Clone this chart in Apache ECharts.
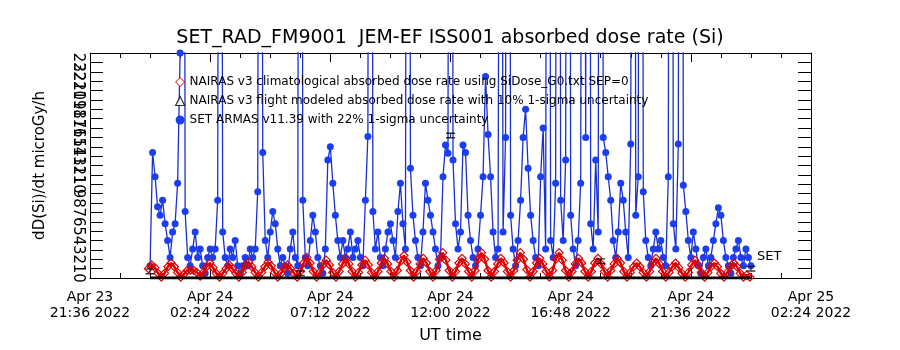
<!DOCTYPE html>
<html>
<head>
<meta charset="utf-8">
<script src="https://cdn.jsdelivr.net/npm/echarts@6/dist/echarts.min.js"></script>
<style>
  html, body { margin: 0; padding: 0; background: #fff; }
  #chart { width: 900px; height: 350px; }
</style>
</head>
<body>
<div id="chart"></div>
<script>
// x axis: minutes after Apr 23 2022 21:36 UT, ticks every 4.8 h
const xTickLabels = ['Apr 23\n21:36 2022', 'Apr 24\n02:24 2022', 'Apr 24\n07:12 2022', 'Apr 24\n12:00 2022',
  'Apr 24\n16:48 2022', 'Apr 24\n21:36 2022', 'Apr 25\n02:24 2022'];
const dayStart = 144; // Apr 24 00:00 in axis minutes

// SET ARMAS dose rate, one value every 6 min from Apr 24 00:00
const setStep = 6;
const setValues = [
  1.3, 13.4, 10.8, 7.6, 6.7, 8.3, 5.8, 4.0, 2.2, 4.9,
  5.8, 10.1, 24.0, 180, 7.1, 2.2, 1.3, 3.1, 4.9, 2.2,
  3.1, 1.3, 0.5, 2.2, 3.1, 2.2, 3.1, 8.3, 150, 4.9,
  2.2, 1.3, 3.1, 2.2, 4.0, 1.3, 0.5, 1.3, 2.2, 1.3,
  3.1, 2.2, 3.1, 9.2, 150, 13.4, 4.0, 2.2, 4.9, 7.1,
  5.8, 3.1, 1.3, 2.2, 1.3, 0.5, 3.1, 4.9, 2.2, 1.3,
  200, 8.3, 2.2, 1.3, 4.0, 6.7, 4.9, 2.2, 1.3, 0.5,
  3.1, 12.6, 14.0, 10.1, 6.7, 4.0, 2.2, 4.0, 2.2, 3.1,
  4.9, 2.2, 3.1, 4.0, 2.2, 1.3, 8.3, 15.1, 180, 7.1,
  3.1, 4.9, 2.2, 1.3, 3.1, 4.9, 5.8, 4.0, 2.2, 7.1,
  10.1, 5.8, 3.1, 160, 11.7, 6.7, 4.0, 2.2, 1.3, 4.9,
  10.1, 8.3, 6.7, 4.9, 3.1, 1.3, 2.2, 10.8, 14.2, 13.3,
  200, 12.6, 5.8, 3.1, 4.9, 14.2, 13.4, 6.7, 4.0, 2.2,
  1.3, 3.1, 6.7, 10.8, 21.5, 15.3, 10.8, 4.9, 2.2, 3.1,
  120, 4.9, 15.0, 200, 6.7, 3.1, 1.3, 4.0, 8.3, 15.0,
  18.0, 11.7, 6.7, 4.0, 2.2, 1.3, 10.8, 16.0, 3.1, 150,
  4.0, 2.2, 10.1, 180, 8.3, 4.0, 12.6, 200, 6.7, 3.1,
  1.3, 4.0, 10.1, 150, 15.0, 200, 5.8, 3.1, 12.6, 4.9,
  200, 15.0, 13.4, 10.8, 8.3, 4.0, 2.2, 4.9, 10.1, 8.3,
  4.9, 2.2, 14.3, 200, 6.7, 10.8, 200, 9.2, 4.0, 2.2,
  1.3, 3.1, 4.9, 3.1, 4.0, 2.2, 1.3, 10.8, 200, 5.8,
  3.1, 14.3, 200, 9.9, 7.1, 4.0, 2.2, 4.9, 3.1, 1.3,
  0.5, 2.2, 3.1, 1.3, 2.2, 4.0, 5.8, 7.5, 6.7, 4.0,
  2.2, 1.3, 0.5, 2.2, 3.1, 4.0, 2.2, 1.3, 3.1, 2.2, 1.3
];

// NAIRAS climatological dose rate, one value every 7.75 min from Apr 23 23:56
const climStart = -4;
const climStep = 7.75;
const climValues = [
  1.0, 1.4, 1.1, 0.5, 0.1, 0.5,
  1.2, 1.6, 1.2, 0.6, 0.1, 0.4,
  0.8, 0.85, 0.8, 0.6, 0.2, 0.6,
  1.2, 1.6, 1.1, 0.5, 0.1, 0.5,
  1.0, 1.4, 1.0, 0.5, 0.1, 0.6,
  1.3, 1.7, 1.2, 0.6, 0.1, 0.6,
  1.2, 1.7, 1.3, 0.6, 0.1, 0.5,
  1.1, 1.4, 1.0, 0.5, 0.1, 0.7,
  1.6, 2.2, 1.6, 0.7, 0.1, 0.6,
  1.4, 1.9, 1.4, 0.6, 0.1, 0.7,
  1.5, 2.1, 1.5, 0.7, 0.1, 0.6,
  1.4, 1.9, 1.4, 0.6, 0.1, 0.7,
  1.6, 2.1, 1.5, 0.7, 0.1, 0.8,
  1.8, 2.4, 1.7, 0.8, 0.1, 0.7,
  1.5, 2.1, 1.6, 0.7, 0.1, 0.8,
  2.0, 2.7, 1.9, 0.8, 0.1, 0.7,
  1.6, 2.1, 1.5, 0.7, 0.1, 0.8,
  2.0, 2.7, 2.0, 0.8, 0.1, 0.7,
  1.5, 2.1, 1.6, 0.7, 0.1, 0.8,
  1.9, 2.7, 2.0, 0.9, 0.1, 0.7,
  1.6, 2.1, 1.5, 0.7, 0.1, 0.8,
  2.0, 2.7, 1.9, 0.8, 0.1, 0.7,
  1.5, 2.1, 1.6, 0.7, 0.1, 0.7,
  1.6, 2.1, 1.5, 0.7, 0.1, 0.8,
  1.5, 2.1, 1.6, 0.7, 0.1, 0.6,
  1.2, 1.6, 1.2, 0.6, 0.1, 0.7,
  1.6, 2.1, 1.5, 0.7, 0.1, 0.6,
  1.2, 1.6, 1.1, 0.5, 0.1, 0.6,
  1.4, 1.9, 1.4, 0.6, 0.1, 0.6,
  1.2, 1.6, 1.2, 0.5, 0.1, 0.6,
  1.2, 1.6, 1.2, 0.5, 0.1, 0.3,
  0.1
];

// NAIRAS flight modeled points (minutes after Apr 24 00:00)
const flightTimes = [0, 360, 720, 1080, 1440];
const flightValues = [0.7, 0.5, 15.2, 1.8, 1.0];
const baseTimes = [0, 1440];
const baseValues = [0, 0];

const legendNames = [
  'NAIRAS v3 climatological absorbed dose rate using SiDose_G0.txt SEP=0',
  'NAIRAS v3 flight modeled absorbed dose rate with 10% 1-sigma uncertainty',
  'SET ARMAS v11.39 with 22% 1-sigma uncertainty'
];

const FONT = 'DejaVu Sans';
const setData = setValues.map((v, i) => [dayStart + i * setStep, v]);
const climData = climValues.map((v, i) => [dayStart + climStart + i * climStep, v]);
const flightData = flightTimes.map((t, i) => [dayStart + t, flightValues[i]]);
const baseData = baseTimes.map((t, i) => [dayStart + t, baseValues[i]]);

const errBar = 'path://M0,0 H10 V1.2 H0 Z M0,4 H10 V5.2 H0 Z M4.4,0 H5.6 V5.2 H4.4 Z';

const chart = echarts.init(document.getElementById('chart'));
const xCommon = {
  type: 'value', min: 0, max: 1728, interval: 288,
  axisLine: { show: true, onZero: false, lineStyle: { color: '#000', width: 1 } },
  axisTick: { inside: true, length: 9, lineStyle: { color: '#000' } },
  minorTick: { show: true, splitNumber: 4, length: 5, lineStyle: { color: '#000' } },
  splitLine: { show: false }
};
const yCommon = {
  type: 'value', min: 0, max: 24, interval: 1,
  axisLine: { show: true, onZero: false, lineStyle: { color: '#000', width: 1 } },
  axisTick: { inside: true, length: 13, lineStyle: { color: '#000' } },
  splitLine: { show: false }
};

chart.setOption({
  animation: false,
  backgroundColor: '#fff',
  title: {
    text: 'SET_RAD_FM9001  JEM-EF ISS001 absorbed dose rate (Si)',
    left: 'center', top: 24,
    textStyle: { fontFamily: FONT, fontSize: 19, fontWeight: 'normal', color: '#000' }
  },
  grid: { left: 90, right: 89, top: 53, bottom: 72 },
  legend: {
    orient: 'vertical', left: 170, top: 70,
    itemWidth: 9, itemHeight: 9, itemGap: 5,
    selectedMode: false,
    textStyle: { fontFamily: FONT, fontSize: 12, color: '#000', lineHeight: 14 },
    data: [
      { name: legendNames[0], icon: 'diamond', itemStyle: { color: '#fff', borderColor: '#e00000', borderWidth: 1 } },
      { name: legendNames[1], icon: 'triangle', itemStyle: { color: '#fff', borderColor: '#000', borderWidth: 1.2 } },
      { name: legendNames[2], icon: 'circle', itemStyle: { color: '#1b3ef0' } }
    ]
  },
  xAxis: [
    Object.assign({}, xCommon, {
      position: 'bottom',
      name: 'UT time', nameLocation: 'middle', nameGap: 50,
      nameTextStyle: { fontFamily: FONT, fontSize: 16, color: '#000' },
      axisLabel: {
        margin: 11, fontFamily: FONT, fontSize: 14, color: '#000', lineHeight: 16,
        formatter: v => xTickLabels[Math.round(v / 288)] || ''
      }
    }),
    Object.assign({}, xCommon, { position: 'top', axisLabel: { show: false } })
  ],
  yAxis: [
    Object.assign({}, yCommon, {
      position: 'left',
      name: 'dD(Si)/dt microGy/h', nameLocation: 'middle', nameGap: 42,
      nameTextStyle: { fontFamily: FONT, fontSize: 15, color: '#000' },
      axisLabel: { rotate: -90, margin: 5, fontFamily: FONT, fontSize: 15, color: '#000' }
    }),
    Object.assign({}, yCommon, { position: 'right', axisLabel: { show: false } })
  ],
  series: [
    {
      name: legendNames[2], type: 'line', data: setData,
      symbol: 'circle', symbolSize: 7, showAllSymbol: true,
      lineStyle: { color: '#1a2fd0', width: 1.3 },
      itemStyle: { color: '#1b3ef0' },
      endLabel: { show: true, formatter: 'SET', offset: [-2, -9], fontFamily: FONT, fontSize: 13, color: '#000' },
      clip: true, z: 2
    },
    {
      name: legendNames[0], type: 'line', data: climData,
      symbol: 'diamond', symbolSize: 8, showAllSymbol: true,
      lineStyle: { color: '#e00000', width: 2.5 },
      itemStyle: { color: 'rgba(255,255,255,0)', borderColor: '#e00000', borderWidth: 1.2 },
      clip: true, z: 3
    },
    {
      name: 'base', type: 'line', data: baseData, symbol: 'none',
      lineStyle: { color: '#000', width: 3 }, z: 4
    },
    {
      name: legendNames[1], type: 'scatter', data: flightData,
      symbol: errBar, symbolSize: [9, 6],
      itemStyle: { color: '#000' }, z: 5
    }
  ]
});
</script>
</body>
</html>
